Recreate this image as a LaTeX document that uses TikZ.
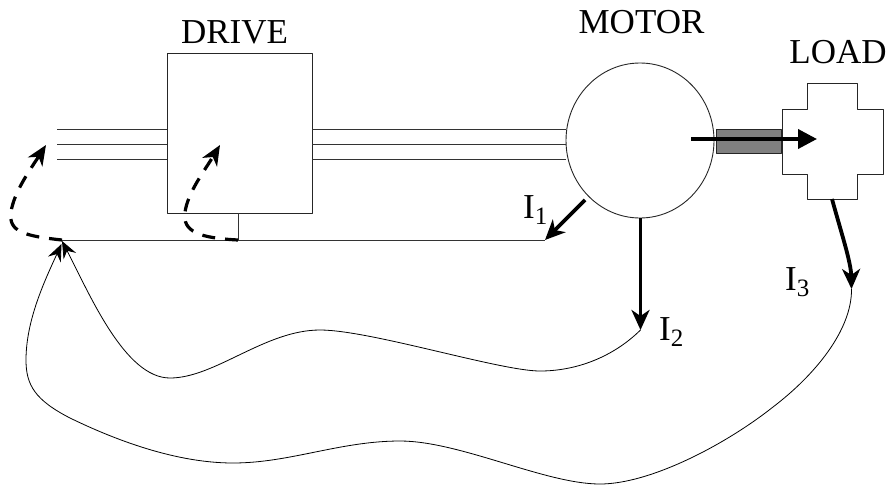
\documentclass[tikz,border=0pt]{standalone}
\usepackage{fontspec}
\setmainfont{Liberation Serif}
\usetikzlibrary{arrows.meta,shapes.geometric}
\tikzset{
	boxline/.style={draw=black!85,line width=.9pt},
	feed/.style={black!80,line width=1pt},
	thinback/.style={line width=.8pt,-{Stealth[length=17pt,width=14pt,inset=6pt]}},
	thickflow/.style={line width=3.8pt,-{Stealth[length=20pt,width=18pt,inset=6pt]}},
	dashback/.style={line width=3.2pt,dash pattern=on 13pt off 10pt,-{Stealth[length=20pt,width=17pt,inset=6pt]}},
	lbl/.style={font=\fontsize{35}{35}\selectfont,inner sep=0pt,anchor=base},
}
\newcommand{\subnum}[1]{\raisebox{-6pt}{\fontsize{25}{25}\selectfont #1}}
\begin{document}
\begin{tikzpicture}[x=1pt,y=-1pt,line join=round]
	\useasboundingbox (0,0) rectangle (888,485);
	% box, motor, load
	\node[boxline,minimum width=145pt,minimum height=160pt,inner sep=0pt] (drive) at (239.5,133) {};
	\node[boxline,ellipse,minimum width=148pt,minimum height=155pt,inner sep=0pt] (motor) at (640,140.5) {};
	\node[boxline,fill=black!50,minimum width=65pt,minimum height=24pt,inner sep=0pt] (shaft) at (748.5,141) {};
	\node[lbl] (drivelbl) at (234.5,43) {DRIVE};
	\node[lbl] (motorlbl) at (641.5,33) {MOTOR};
	\node[lbl] (loadlbl) at (838,63) {LOAD};
	\draw[boxline] (782,109)--(807,109)--(807,83.5)--(857,83.5)--(857,109)--(883,109)--(883,174)--(857,174)--(857,199.5)--(807,199.5)--(807,174)--(782,174)--cycle;
	% feed lines
	\foreach \y in {129,144,159}{
		\draw[feed] (57,\y)--(167,\y);
		\draw[feed] (312,\y)--(566,\y);
	}
	\coordinate (tap) at (238,213);
	\coordinate (tapb) at (238,240);
	\coordinate (ret) at (62,240);
	\coordinate (retin) at (62,241);
	\coordinate (retout) at (61.5,244);
	\coordinate (iend) at (545,240);
	\draw[feed] (tap)--(tapb);
	\draw[feed] (ret)--(iend);
	% shaft arrow
	\draw[line width=3.8pt,-{Triangle[length=19pt,width=19pt]}] (691,139)--(817,139);
	% currents
	\coordinate (ione) at (585,200);
	\coordinate (itwo) at (640.5,218);
	\coordinate (itwoend) at (640.5,330);
	\coordinate (ithree) at (832,199);
	\coordinate (ithreeend) at (851.5,289);
	\draw[thickflow] (ione)--(iend);
	\draw[thickflow] (itwo)--(itwoend);
	\draw[thickflow] (ithree) .. controls (841,232) and (851,262) .. (ithreeend);
	\node[lbl,anchor=base west] (ionelbl) at (523,218) {I\subnum{1}};
	\node[lbl,anchor=base west] (itwolbl) at (659,340) {I\subnum{2}};
	\node[lbl,anchor=base west] (ithreelbl) at (785,290) {I\subnum{3}};
	% dashed returns
	\draw[dashback] (ret) .. controls (25,236) and (8,232) .. (11,212) .. controls (14,192) and (30,170) .. (46,145);
	\draw[dashback] (tapb) .. controls (200,238) and (182,232) .. (185,212) .. controls (188,192) and (205,170) .. (220,145);
	% return curves
	\draw[thinback] (itwoend) .. controls (612,358) and (575,371) .. (540,371) .. controls (500,371) and (370,330) .. (320,330) .. controls (265,330) and (215,378) .. (170,378) .. controls (125,378) and (90,295) .. (retin);
	\draw[thinback] (ithreeend) .. controls (852,330) and (815,375) .. (773,407) .. controls (725,445) and (650,484) .. (600,484) .. controls (545,484) and (460,441) .. (400,441) .. controls (340,441) and (290,463) .. (233,463) .. controls (170,463) and (105,435) .. (70,418) .. controls (35,400) and (26,385) .. (26,360) .. controls (26,320) and (45,280) .. (retout);
\end{tikzpicture}
\end{document}
